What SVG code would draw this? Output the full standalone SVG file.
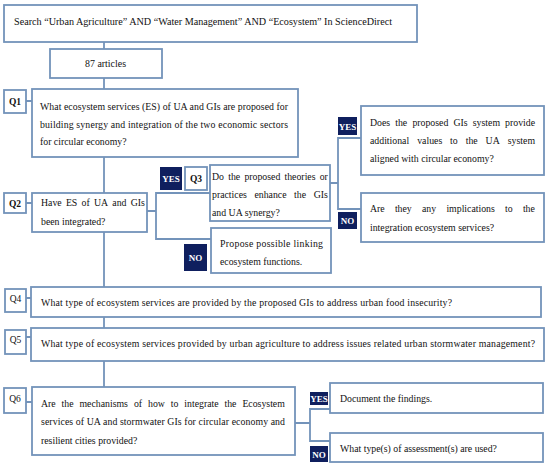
<svg xmlns="http://www.w3.org/2000/svg" width="550" height="469" viewBox="0 0 550 469">
<style>
.b{fill:#fff;stroke:#7393ba;stroke-width:1.8}
.c{fill:none;stroke:#7393ba;stroke-width:1.8}
.t{font-family:"Liberation Serif","DejaVu Serif",serif;font-size:9.8px;fill:#111}
.q{font-family:"Liberation Serif","DejaVu Serif",serif;font-size:9.5px;fill:#111;text-anchor:middle}
.qb{font-weight:bold}
.y{fill:#0f1f5e}
.yt{font-family:"Liberation Serif","DejaVu Serif",serif;font-size:9px;font-weight:bold;fill:#fff;text-anchor:middle}
</style>
<rect width="550" height="469" fill="#fff"/>
<g id="connectors">
<path class="c" d="M104 42V49M104 78V89M104 157V193M104 232V287M104 317V328M104 361V387"/>
<path class="c" d="M26 101H32M26 203H32M26 298H31M26 337H31M26 402H32"/>
<path class="c" d="M147 211H156M210 193H156V239H211"/>
<path class="c" d="M330 183H338M361 138H338V209H361"/>
<path class="c" d="M295 423H310M330 409H310V441H330"/>
</g>
<g id="search">
<rect class="b" x="4" y="5" width="413" height="37"/>
<text class="t" x="14" y="25" textLength="378" lengthAdjust="spacingAndGlyphs">Search “Urban Agriculture” AND “Water Management” AND “Ecosystem” In ScienceDirect</text>
</g>
<g id="articles">
<rect class="b" x="50" y="49" width="112" height="29"/>
<text class="t" x="85" y="67" textLength="41" lengthAdjust="spacingAndGlyphs">87 articles</text>
</g>
<g id="q1">
<rect class="b" x="4" y="90" width="22" height="23"/>
<text class="q qb" x="15" y="105">Q1</text>
<rect class="b" x="32" y="89" width="266" height="68"/>
<text class="t" x="40" y="110" textLength="248" lengthAdjust="spacing">What ecosystem services (ES) of UA and GIs are proposed for</text>
<text class="t" x="40" y="127.5" textLength="248" lengthAdjust="spacing">building synergy and integration of the two economic sectors</text>
<text class="t" x="40" y="145">for circular economy?</text>
</g>
<g id="q2">
<rect class="b" x="4" y="193" width="22" height="20"/>
<text class="q qb" x="15" y="206.5">Q2</text>
<rect class="b" x="32" y="193" width="115" height="39"/>
<text class="t" y="206"><tspan x="41">Have</tspan><tspan x="65.9">ES</tspan><tspan x="81.5">of</tspan><tspan x="93.9">UA</tspan><tspan x="112.3">and</tspan><tspan x="130.7">GIs</tspan></text>
<text class="t" x="41" y="225">been integrated?</text>
</g>
<g id="q3">
<rect class="y" x="160" y="167" width="22" height="23"/>
<text class="yt" x="171" y="181.5">YES</text>
<rect class="b" x="185" y="167" width="22" height="23"/>
<text class="q qb" x="196" y="181.5">Q3</text>
<rect class="b" x="210" y="165" width="120" height="56"/>
<text class="t" y="179.5"><tspan x="212">Do</tspan><tspan x="228.2">the</tspan><tspan x="244.4">proposed</tspan><tspan x="284.5">theories</tspan><tspan x="319.7">or</tspan></text>
<text class="t" y="197.5"><tspan x="212">practices</tspan><tspan x="254.4">enhance</tspan><tspan x="294.1">the</tspan><tspan x="313.7">GIs</tspan></text>
<text class="t" x="212" y="216">and UA synergy?</text>
</g>
<g id="q2-no">
<rect class="y" x="184" y="244" width="23" height="27"/>
<text class="yt" x="195.5" y="260.5">NO</text>
<rect class="b" x="211" y="228" width="120" height="45"/>
<text class="t" x="220" y="246.5" textLength="103" lengthAdjust="spacing">Propose possible linking</text>
<text class="t" x="220" y="265">ecosystem functions.</text>
</g>
<g id="q3-yes">
<rect class="y" x="338" y="117" width="19" height="18"/>
<text class="yt" x="347.5" y="129.5">YES</text>
<rect class="b" x="361" y="106" width="183" height="69"/>
<text class="t" y="125.5"><tspan x="370">Does</tspan><tspan x="395.2">the</tspan><tspan x="412.4">proposed</tspan><tspan x="453.4">GIs</tspan><tspan x="472.8">system</tspan><tspan x="505.1">provide</tspan></text>
<text class="t" y="143.5"><tspan x="370">additional</tspan><tspan x="417.2">values</tspan><tspan x="450.1">to</tspan><tspan x="465.7">the</tspan><tspan x="485.6">UA</tspan><tspan x="507.8">system</tspan></text>
<text class="t" x="370" y="162">aligned with circular economy?</text>
</g>
<g id="q3-no">
<rect class="y" x="338" y="212" width="19" height="17"/>
<text class="yt" x="347.5" y="224">NO</text>
<rect class="b" x="361" y="193" width="183" height="49"/>
<text class="t" y="211.5"><tspan x="370">Are</tspan><tspan x="394.9">they</tspan><tspan x="422">any</tspan><tspan x="446.4">implications</tspan><tspan x="505.1">to</tspan><tspan x="522.9">the</tspan></text>
<text class="t" x="370" y="230.5">integration ecosystem services?</text>
</g>
<g id="q4">
<rect class="b" x="5" y="289" width="21" height="23"/>
<text class="q" x="15.5" y="301.5">Q4</text>
<rect class="b" x="31" y="287" width="510" height="30"/>
<text class="t" x="41" y="306" textLength="411" lengthAdjust="spacing">What type of ecosystem services are provided by the proposed GIs to address urban food insecurity?</text>
</g>
<g id="q5">
<rect class="b" x="5" y="330" width="21" height="24"/>
<text class="q" x="15.5" y="342.5">Q5</text>
<rect class="b" x="31" y="328" width="513" height="33"/>
<text class="t" x="41" y="346.5" textLength="494" lengthAdjust="spacing">What type of ecosystem services provided by urban agriculture to address issues related urban stormwater management?</text>
</g>
<g id="q6">
<rect class="b" x="4" y="388" width="22" height="25"/>
<text class="q" x="15" y="402">Q6</text>
<rect class="b" x="32" y="387" width="263" height="68"/>
<text class="t" y="406.5"><tspan x="41">Are</tspan><tspan x="61.6">the</tspan><tspan x="79.5">mechanisms</tspan><tspan x="133.9">of</tspan><tspan x="148">how</tspan><tspan x="170.8">to</tspan><tspan x="184.3">integrate</tspan><tspan x="224.5">the</tspan><tspan x="242.4">Ecosystem</tspan></text>
<text class="t" x="41" y="425" textLength="244" lengthAdjust="spacing">services of UA and stormwater GIs for circular economy and</text>
<text class="t" x="41" y="444">resilient cities provided?</text>
</g>
<g id="q6-yes">
<rect class="y" x="310" y="392" width="18" height="13"/>
<text class="yt" x="319" y="402">YES</text>
<rect class="b" x="330" y="383" width="213" height="30"/>
<text class="t" x="340" y="401.5">Document the findings.</text>
</g>
<g id="q6-no">
<rect class="y" x="310" y="446" width="18" height="16"/>
<text class="yt" x="319" y="457.5">NO</text>
<rect class="b" x="330" y="433" width="213" height="29"/>
<text class="t" x="340" y="451.5">What type(s) of assessment(s) are used?</text>
</g>
</svg>
